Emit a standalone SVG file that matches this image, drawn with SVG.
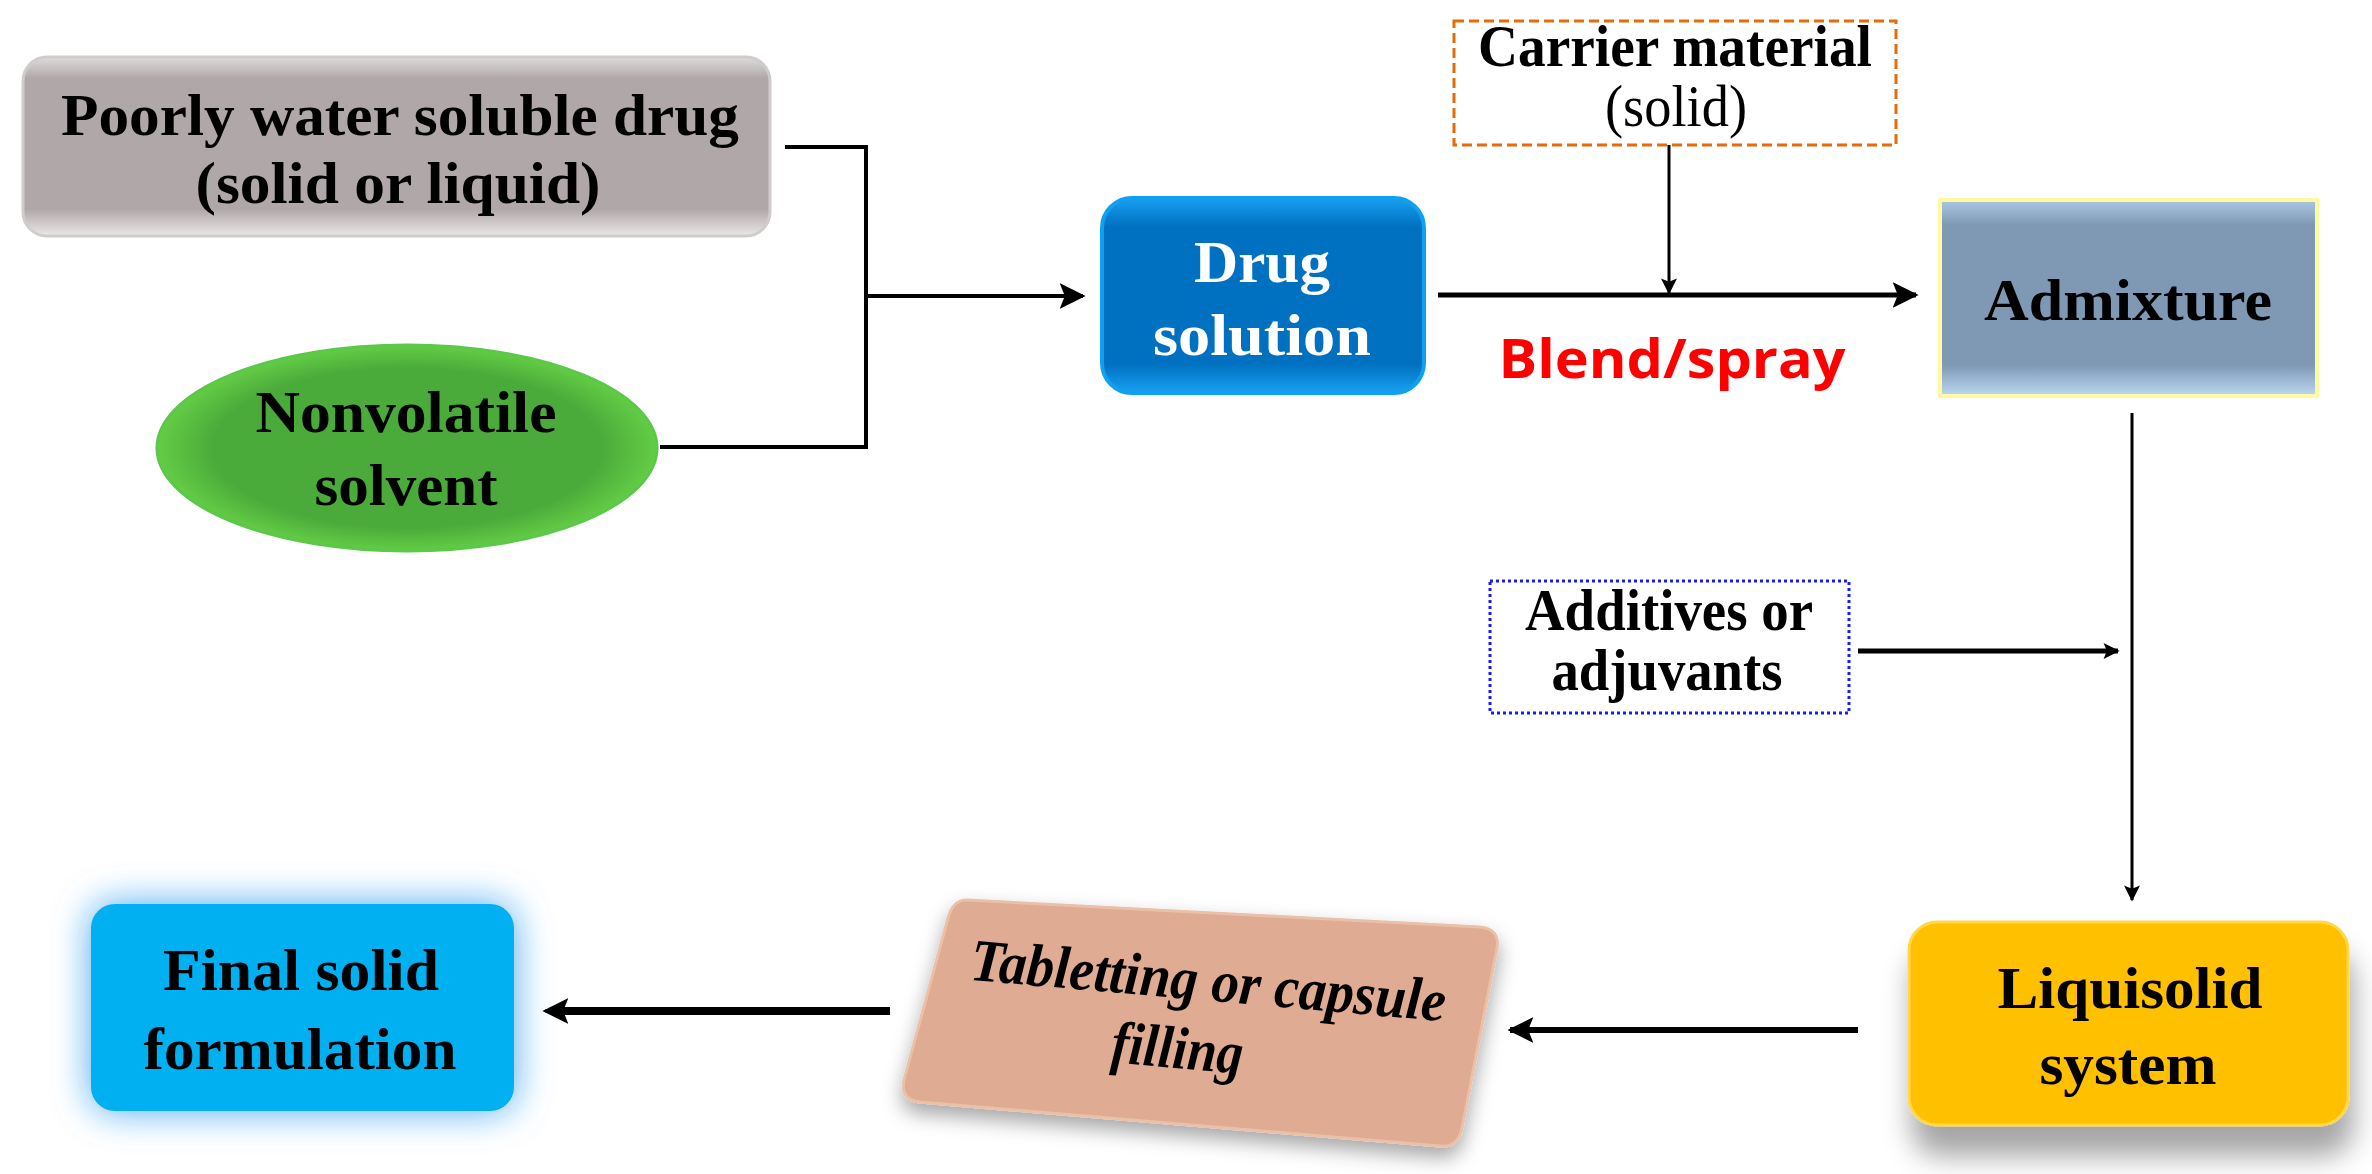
<svg xmlns="http://www.w3.org/2000/svg" width="2372" height="1174" viewBox="0 0 2372 1174">
<defs>
<style>
.t{font-family:"Liberation Serif",serif;font-weight:bold;font-size:60px;fill:#000;text-anchor:middle}
.w{fill:#fff}
.c{stroke:#000;fill:none}
</style>
<marker id="ah" viewBox="0 0 10 10" refX="9" refY="5" markerWidth="26" markerHeight="30" markerUnits="userSpaceOnUse" orient="auto"><path d="M0,0 L10,5 L0,10 L2,5 z" fill="#000"/></marker>
<marker id="ah2" viewBox="0 0 10 10" refX="9" refY="5" markerWidth="30" markerHeight="16" markerUnits="userSpaceOnUse" orient="auto"><path d="M0,0 L10,5 L0,10 L2,5 z" fill="#000"/></marker>
<linearGradient id="gGrey" x1="0" y1="0" x2="0" y2="1"><stop offset="0" stop-color="#e0dcdc"/><stop offset="0.12" stop-color="#b0a8a8"/><stop offset="0.85" stop-color="#b0a8a8"/><stop offset="1" stop-color="#ece8e8"/></linearGradient>
<radialGradient id="gGreen" cx="0.5" cy="0.5" r="0.55"><stop offset="0.7" stop-color="#4aaa3a"/><stop offset="1" stop-color="#6edc4a"/></radialGradient>
<linearGradient id="gBlue" x1="0" y1="0" x2="0" y2="1"><stop offset="0" stop-color="#18a0f0"/><stop offset="0.15" stop-color="#0070c0"/><stop offset="0.85" stop-color="#0070c0"/><stop offset="1" stop-color="#1aa0f0"/></linearGradient>
<linearGradient id="gAdm" x1="0" y1="0" x2="0" y2="1"><stop offset="0" stop-color="#a8c4e0"/><stop offset="0.12" stop-color="#7f99b5"/><stop offset="0.85" stop-color="#7f99b5"/><stop offset="1" stop-color="#b8d4f0"/></linearGradient>
<filter id="sh" x="-20%" y="-20%" width="150%" height="160%"><feDropShadow dx="4" dy="30" stdDeviation="14" flood-color="#000" flood-opacity="0.35"/></filter>
<filter id="glow" x="-30%" y="-30%" width="160%" height="160%"><feDropShadow dx="0" dy="0" stdDeviation="18" flood-color="#1a90f0" flood-opacity="0.8"/></filter>
<filter id="sh2" x="-20%" y="-20%" width="140%" height="150%"><feDropShadow dx="0" dy="10" stdDeviation="10" flood-color="#000" flood-opacity="0.35"/></filter>
</defs>
<rect width="2372" height="1174" fill="#fff"/>
<g id="poorly">
<rect x="23" y="57" width="747" height="179" rx="24" fill="url(#gGrey)" stroke="#d0cccc" stroke-width="3"/>
<text class="t" x="400" y="135" textLength="678" lengthAdjust="spacingAndGlyphs">Poorly water soluble drug</text>
<text class="t" x="398" y="203" textLength="405" lengthAdjust="spacingAndGlyphs">(solid or liquid)</text>
</g>
<g id="solvent">
<ellipse cx="407" cy="448" rx="250" ry="103" fill="url(#gGreen)" stroke="#5cc84a" stroke-width="3"/>
<text class="t" x="406" y="432" textLength="301" lengthAdjust="spacingAndGlyphs">Nonvolatile</text>
<text class="t" x="406" y="505" textLength="183" lengthAdjust="spacingAndGlyphs">solvent</text>
</g>
<g id="drug">
<rect x="1102" y="198" width="322" height="195" rx="30" fill="url(#gBlue)" stroke="#10a0f0" stroke-width="4"/>
<text class="t w" x="1262" y="282" textLength="136" lengthAdjust="spacingAndGlyphs">Drug</text>
<text class="t w" x="1262" y="355" textLength="218" lengthAdjust="spacingAndGlyphs">solution</text>
</g>
<g id="carrier">
<rect x="1454" y="21" width="442" height="124" fill="#fff" stroke="#e46c0a" stroke-width="3" stroke-dasharray="10,5"/>
<text class="t" x="1675" y="66" font-size="48" textLength="394" lengthAdjust="spacingAndGlyphs">Carrier material</text>
<text class="t" x="1676" y="126" font-size="48" textLength="142" lengthAdjust="spacingAndGlyphs" style="font-weight:normal">(solid)</text>
</g>
<g id="blend">
<text x="1672" y="378" font-family="'Open Sans','Liberation Sans',sans-serif" font-weight="bold" font-size="54" fill="#ff0000" text-anchor="middle" textLength="347" lengthAdjust="spacingAndGlyphs">Blend/spray</text>
</g>
<g id="admixture">
<rect x="1938" y="198" width="381" height="200" fill="#fff9a0"/>
<rect x="1942" y="202" width="373" height="192" fill="url(#gAdm)"/>
<text class="t" x="2128" y="320" textLength="288" lengthAdjust="spacingAndGlyphs">Admixture</text>
</g>
<g id="additives">
<rect x="1490" y="581" width="359" height="132" fill="#fff" stroke="#1a1aff" stroke-width="3" stroke-dasharray="3,3"/>
<text class="t" x="1669" y="630" font-size="52" textLength="288" lengthAdjust="spacingAndGlyphs">Additives or</text>
<text class="t" x="1667" y="690" font-size="52" textLength="231" lengthAdjust="spacingAndGlyphs">adjuvants</text>
</g>
<g id="liquisolid">
<rect x="1909" y="922" width="439" height="203" rx="28" fill="#ffc000" stroke="#ffd84a" stroke-width="3" filter="url(#sh)"/>
<text class="t" x="2130" y="1008" textLength="265" lengthAdjust="spacingAndGlyphs">Liquisolid</text>
<text class="t" x="2128" y="1084" textLength="177" lengthAdjust="spacingAndGlyphs">system</text>
</g>
<g id="tabletting">
<path d="M968,900 L1480,927 Q1500,929 1497,948 L1462,1128 Q1458,1148 1440,1146 L920,1102 Q900,1100 904,1080 L948,918 Q953,899 968,900 z" fill="#dfab92" stroke="#eac0aa" stroke-width="3" filter="url(#sh2)"/>
<g transform="rotate(5 1200 1020)">
<text class="t" x="1205" y="1000" font-style="italic" font-size="56" textLength="477" lengthAdjust="spacingAndGlyphs">Tabletting or capsule</text>
<text class="t" x="1180" y="1070" font-style="italic" font-size="56" textLength="132" lengthAdjust="spacingAndGlyphs">filling</text>
</g>
</g>
<g id="final">
<rect x="91" y="904" width="423" height="207" rx="24" fill="#00b0f0" filter="url(#glow)"/>
<text class="t" x="301" y="990" textLength="276" lengthAdjust="spacingAndGlyphs">Final solid</text>
<text class="t" x="300" y="1069" textLength="313" lengthAdjust="spacingAndGlyphs">formulation</text>
</g>
<g id="connectors">
<path class="c" stroke-width="4" d="M785,147 H866 V447 H660"/>
<path class="c" stroke-width="4" d="M866,296 H1083" marker-end="url(#ah)"/>
<path class="c" stroke-width="5" d="M1438,295 H1916" marker-end="url(#ah)"/>
<path class="c" stroke-width="3" d="M1669,145 V293" marker-end="url(#ah2)"/>
<path class="c" stroke-width="3" d="M2132,413 V900" marker-end="url(#ah2)"/>
<path class="c" stroke-width="5" d="M1858,651 H2118" marker-end="url(#ah2)"/>
<path class="c" stroke-width="6" d="M1858,1030 H1510" marker-end="url(#ah)"/>
<path class="c" stroke-width="8" stroke="#666" d="M890,1011 H560"/>
<path class="c" stroke-width="3" d="M890,1011 H545" marker-end="url(#ah)"/>
</g>
</svg>
